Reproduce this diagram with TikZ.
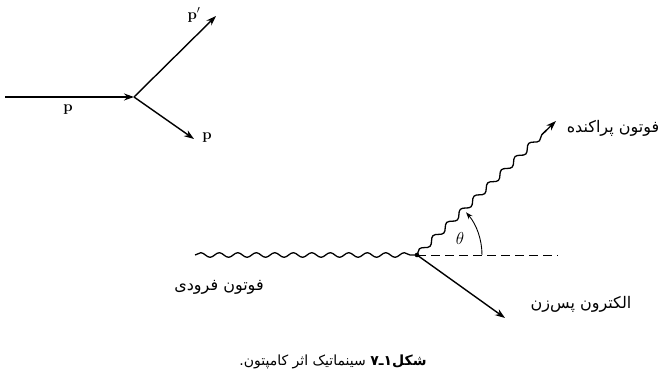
\documentclass[tikz,border=0pt]{standalone}
\usepackage{fontspec}
\usetikzlibrary{arrows.meta,decorations.pathmorphing,calc}
\newfontfamily\arabicfont[Script=Arabic]{DejaVu Sans}
\TeXXeTstate=1
\tikzset{
  vec/.style={line width=1.4pt,-{Stealth[length=10pt,width=7pt]}},
  photon/.style={line width=1.3pt,decorate,decoration={snake,amplitude=2.3pt,segment length=18.5pt,post length=0pt}},
  lbl/.style={font=\arabicfont\fontsize{16}{18}\selectfont,inner sep=0pt},
  plbl/.style={font=\bfseries\fontsize{15}{17}\selectfont,inner sep=0pt}
}
\begin{document}
\begin{tikzpicture}[x=1pt,y=-1pt]
\useasboundingbox (0,0) rectangle (665,379);
% top-left momentum diagram
\coordinate (a0) at (5,97);
\coordinate (v1) at (134,97);
\coordinate (pp) at (216,16);
\coordinate (pe) at (194,139);
\draw[vec] (a0) -- (v1);
\draw[vec] (v1) -- (pp);
\draw[vec] (v1) -- (pe);
\node[plbl] (lp) at (68,110) {p};
\node[plbl] (lpp) at (194,15) {p$'$};
\node[plbl] (lpe) at (207,138) {p};
% Compton diagram
\coordinate (inc) at (195,255);
\coordinate (v) at (417,255);
\coordinate (sc) at (556,121);
\coordinate (dash) at (558,255);
\coordinate (el) at (505,318);
\coordinate (scw) at ($(v)!0.93!(sc)$);
\coordinate (sca) at ($(v)!0.9!(sc)$);
\draw[photon] (inc) -- (v);
\draw[photon,decoration={amplitude=2.8pt,segment length=19pt}] (v) -- (scw);
\draw[line width=1.3pt,-{Stealth[length=10pt,width=7pt]}] (sca) -- (sc);
\draw[line width=0.9pt,dash pattern=on 9pt off 5pt] (v) -- (dash);
\draw[vec] (v) -- (el);
\fill (v) circle (2.3pt);
\draw[line width=0.9pt,-{Stealth[length=7pt,width=5pt]}] ([shift={(0:65)}]v) arc[start angle=0,end angle=-41,radius=65];
\node[font=\fontsize{17}{19}\selectfont] (theta) at (460,239) {$\theta$};
\node[lbl] (t1) at (613,128) {\beginR فوتون پراکنده\endR};
\node[lbl] (t2) at (219,287) {\beginR فوتون فرودی\endR};
\node[lbl] (t3) at (581,304) {\beginR الکترون پس‌زن\endR};
\node[lbl,font=\arabicfont\fontsize{14}{16}\selectfont] (cap) at (333,362) {\beginR \textbf{شکل۱ـ۷} سینماتیک اثر کامپتون.\endR};
\end{tikzpicture}
\end{document}
